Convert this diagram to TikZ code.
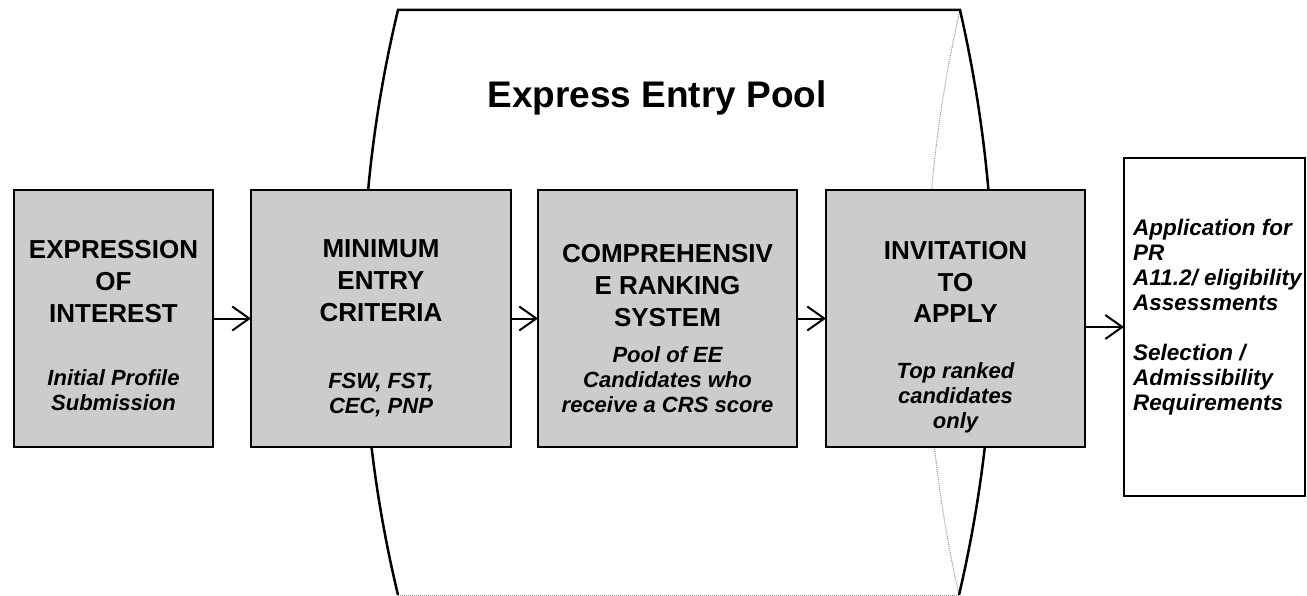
\documentclass[tikz,border=0pt]{standalone}
\usepackage{fontspec}
\setmainfont{Liberation Sans}
\usetikzlibrary{arrows.meta}
\definecolor{boxgray}{RGB}{204,204,204}
\definecolor{dotgray}{RGB}{150,150,150}
\begin{document}
\begin{tikzpicture}[x=1pt,y=-1pt,
  stagebox/.style={draw=black, line width=2pt, fill=boxgray, inner sep=0pt, outer sep=0pt},
  outbox/.style={draw=black, line width=2pt, fill=white, inner sep=0pt, outer sep=0pt},
  headtxt/.style={font=\fontsize{26}{32}\selectfont\bfseries, align=center, anchor=base, inner sep=0pt},
  subtxt/.style={font=\fontsize{22}{25}\selectfont\bfseries\itshape, align=center, anchor=base, inner sep=0pt},
  outtxt/.style={font=\fontsize{22.5}{25}\selectfont\bfseries\itshape, align=left, anchor=base west, inner sep=0pt},
  flow/.style={line width=2pt, -{Straight Barb[length=17pt, width=24pt, line width=2pt]}},
  poolline/.style={line width=2.5pt, line join=miter},
  hiddenline/.style={draw=dotgray, line width=1pt, densely dotted}]

\useasboundingbox (0,0) rectangle (1307,596);

% pool outline
\coordinate (tl) at (398,10);
\coordinate (tr) at (960,10);
\coordinate (bl) at (398,595);
\coordinate (br) at (959,595);
\draw[hiddenline] (bl) -- (br);
\draw[hiddenline] (tr) .. controls (915.5,204.7) and (915.5,400.3) .. (br);
\draw[poolline] (bl) .. controls (351.3,400.3) and (351.3,204.7) .. (tl) -- (tr)
  .. controls (1004.5,204.7) and (1004.5,400.3) .. (br);

\node[font=\fontsize{37}{44}\selectfont\bfseries, anchor=base, inner sep=0pt] (title) at (657,108) {Express Entry Pool};

% boxes
\node[stagebox, minimum width=199pt, minimum height=257pt] (b1) at (113.5,318.5) {};
\node[stagebox, minimum width=260pt, minimum height=257pt] (b2) at (381,318.5) {};
\node[stagebox, minimum width=259pt, minimum height=257pt] (b3) at (667.5,318.5) {};
\node[stagebox, minimum width=259pt, minimum height=257pt] (b4) at (955.5,318.5) {};
\node[outbox, minimum width=181pt, minimum height=338pt] (b5) at (1214.5,327) {};

% arrows
\draw[flow] (b1.east) -- (b2.west);
\draw[flow] (b2.east) -- (b3.west);
\draw[flow] (b3.east) -- (b4.west);
\draw[flow] (b4.east |- b5.west) -- (b5.west);

% texts (anchor = baseline of the last line)
\node[headtxt] (h1) at (113.5,322) {EXPRESSION\\OF\\INTEREST};
\node[subtxt] (s1) at (113.5,410) {Initial Profile\\Submission};
\node[headtxt] (h2) at (381,321) {MINIMUM\\ENTRY\\CRITERIA};
\node[subtxt] (s2) at (381,413) {FSW, FST,\\CEC, PNP};
\node[headtxt] (h3) at (667.5,326) {COMPREHENSIV\\E RANKING\\SYSTEM};
\node[subtxt] (s3) at (667.5,412) {Pool of EE\\Candidates who\\receive a CRS score};
\node[headtxt] (h4) at (955.5,323) {INVITATION\\TO\\APPLY};
\node[subtxt] (s4) at (955.5,428) {Top ranked\\candidates\\only};
\node[outtxt] (t5) at (1133,410) {Application for\\PR\\A11.2/ eligibility\\Assessments\\[25pt]Selection /\\Admissibility\\Requirements};
\end{tikzpicture}
\end{document}
